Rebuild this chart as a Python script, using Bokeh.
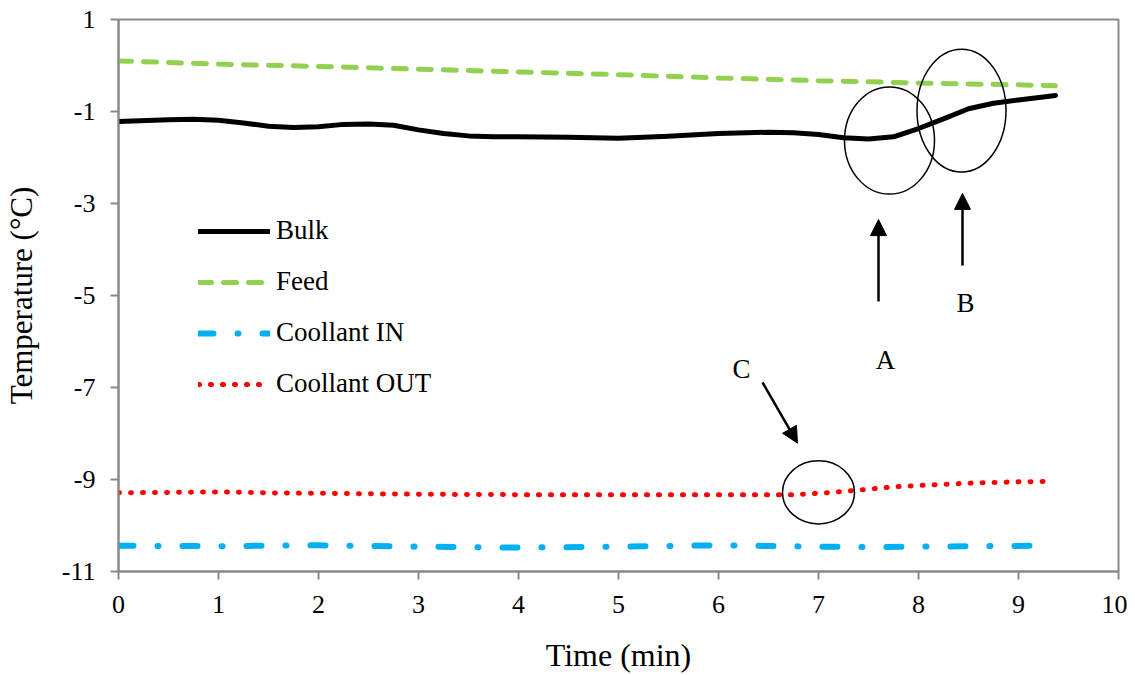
from bokeh.plotting import figure
from bokeh.models import (Range1d, FixedTicker, Legend, LegendItem, Arrow,
                          NormalHead)
from bokeh.core.properties import value
from bokeh.embed import file_html
from bokeh.resources import INLINE

# ---------------- data ----------------
bulk_t = [0, 0.5, 0.75, 1.0, 1.25, 1.5, 1.75, 2.0, 2.25, 2.5, 2.75, 3.0, 3.25,
          3.5, 3.75, 4.0, 4.5, 5.0, 5.5, 6.0, 6.5, 6.75, 7.0, 7.25, 7.5, 7.75,
          8.0, 8.25, 8.5, 8.75, 9.0, 9.37]
bulk_v = [-1.22, -1.18, -1.17, -1.19, -1.25, -1.32, -1.35, -1.33, -1.28, -1.27,
          -1.30, -1.40, -1.48, -1.53, -1.55, -1.55, -1.56, -1.58, -1.54, -1.48,
          -1.45, -1.46, -1.50, -1.57, -1.60, -1.55, -1.37, -1.16, -0.94, -0.82,
          -0.75, -0.65]

feed_t = [0, 1, 2, 3, 4, 5, 6, 7, 8, 9, 9.37]
feed_v = [0.10, 0.03, -0.02, -0.08, -0.14, -0.20, -0.27, -0.33, -0.38, -0.42, -0.44]

cin_t = [0, 1, 2, 3, 4, 5, 6, 7, 7.5, 8, 9.17]
cin_v = [-10.44, -10.45, -10.43, -10.46, -10.48, -10.46, -10.43, -10.46, -10.47,
         -10.46, -10.44]

cout_t = [0, 0.5, 1.0, 1.5, 2, 3, 4, 5, 6, 6.75, 7.0, 7.25, 7.5, 7.75, 8.0, 8.5,
          9.0, 9.35]
cout_v = [-9.29, -9.28, -9.27, -9.29, -9.30, -9.32, -9.33, -9.33, -9.33, -9.33,
          -9.30, -9.26, -9.21, -9.16, -9.13, -9.08, -9.05, -9.04]

series_names = ["Bulk", "Feed", "Coollant IN", "Coollant OUT"]

x_ticks = [0, 1, 2, 3, 4, 5, 6, 7, 8, 9, 10]
y_ticks = [1, -1, -3, -5, -7, -9, -11]

# annotations (ellipses: centre x, centre y, width, height in data units)
ell_x = [7.71, 8.43, 7.0]
ell_y = [-1.63, -0.98, -9.28]
ell_w = [0.90, 0.89, 0.72]
ell_h = [2.33, 2.67, 1.37]

arrow_x0 = [7.60, 8.44, 6.44]
arrow_y0 = [-5.13, -4.35, -6.89]
arrow_x1 = [7.60, 8.44, 6.79]
arrow_y1 = [-3.35, -2.78, -8.21]

lab_text = ["A", "B", "C"]
lab_x = [7.67, 8.47, 6.23]
lab_y = [-6.41, -5.17, -6.59]

FONT = "Liberation Serif"
AXIS_COLOR = "#898989"

p = figure(width=1127, height=675, output_backend="svg", toolbar_location=None,
           x_range=Range1d(0, 10), y_range=Range1d(-11, 1),
           min_border_left=118, min_border_right=9, min_border_top=19,
           min_border_bottom=104)
p.background_fill_color = "white"
p.border_fill_color = "white"
p.outline_line_color = AXIS_COLOR
p.outline_line_width = 2
p.xgrid.visible = False
p.ygrid.visible = False

for ax in (p.xaxis[0], p.yaxis[0]):
    ax.axis_line_color = AXIS_COLOR
    ax.axis_line_width = 2
    ax.major_tick_line_color = AXIS_COLOR
    ax.major_tick_line_width = 2
    ax.major_tick_out = 8
    ax.major_tick_in = 0
    ax.minor_tick_line_color = None
    ax.major_label_text_font = FONT
    ax.major_label_text_font_size = "26px"
    ax.major_label_text_color = "black"
    ax.axis_label_text_font = FONT
    ax.axis_label_text_font_style = "normal"
    ax.axis_label_text_color = "black"

p.xaxis.ticker = FixedTicker(ticks=x_ticks)
p.yaxis.ticker = FixedTicker(ticks=y_ticks)
p.xaxis.major_label_overrides = {t: str(t) for t in x_ticks}
p.yaxis.major_label_overrides = {t: str(t) for t in y_ticks}
p.xaxis.axis_label = "Time (min)"
p.yaxis.axis_label = "Temperature (°C)"
p.xaxis.axis_label_text_font_size = "32px"
p.yaxis.axis_label_text_font_size = "31px"
p.xaxis.major_label_standoff = 16
p.yaxis.major_label_standoff = 15
p.xaxis.axis_label_standoff = 21
p.yaxis.axis_label_standoff = 20

r_bulk = p.line(bulk_t, bulk_v, line_color="black", line_width=5,
                line_cap="round", line_join="round")
r_feed = p.line(feed_t, feed_v, line_color="#92D050", line_width=5,
                line_dash="13 12", line_cap="round")
r_cin = p.line(cin_t, cin_v, line_color="#00B0F0", line_width=6,
               line_dash="15 24 1 24", line_cap="round")
r_cout = p.line(cout_t, cout_v, line_color="#FF0000", line_width=5,
                line_dash="1 11", line_cap="round")

# annotations
p.ellipse(x=ell_x, y=ell_y, width=ell_w, height=ell_h, fill_color=None,
          line_color="black", line_width=1.5)
for x0, y0, x1, y1 in zip(arrow_x0, arrow_y0, arrow_x1, arrow_y1):
    p.add_layout(Arrow(x_start=x0, y_start=y0, x_end=x1, y_end=y1,
                       line_color="black", line_width=2.5,
                       end=NormalHead(size=16, fill_color="black",
                                      line_color="black", line_width=1)))
p.text(x=lab_x, y=lab_y, text=lab_text, text_font=value(FONT),
       text_font_size="27px", text_align="center", text_baseline="alphabetic",
       text_color="black")

legend = Legend(items=[LegendItem(label=n, renderers=[r])
                       for n, r in zip(series_names, [r_bulk, r_feed, r_cin, r_cout])],
                location=(80, 172))
legend.glyph_width = 72
legend.glyph_height = 20
legend.label_height = 20
legend.label_standoff = 6
legend.spacing = 20
legend.padding = 0
legend.margin = 0
legend.border_line_alpha = 0
legend.background_fill_alpha = 0
legend.label_text_font = FONT
legend.label_text_font_size = "27px"
legend.label_text_color = "black"
p.add_layout(legend)

open("out.html", "w").write(file_html(p, INLINE))
